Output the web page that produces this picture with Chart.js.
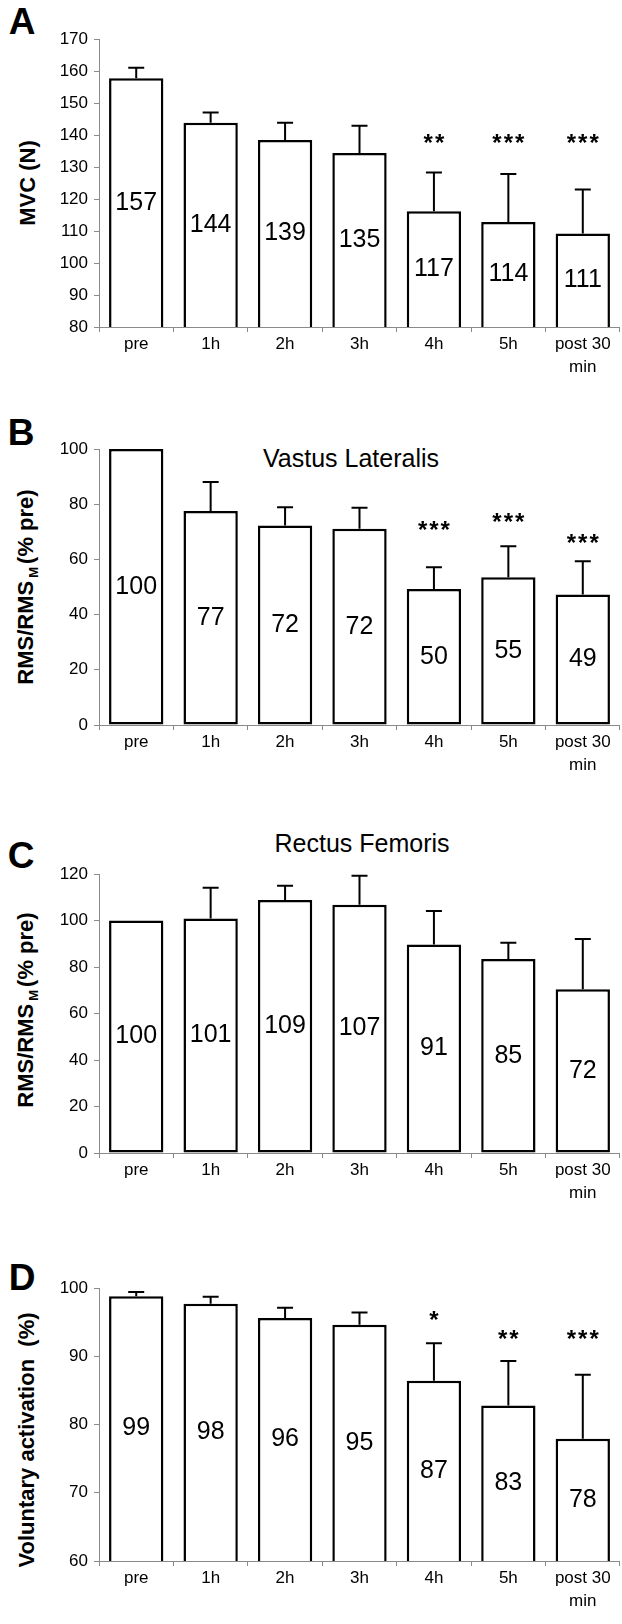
<!DOCTYPE html>
<html>
<head>
<meta charset="utf-8">
<script src="https://cdn.jsdelivr.net/npm/chart.js@4.4.0/dist/chart.umd.min.js"></script>
<style>
html, body { margin: 0; padding: 0; background: #fff; overflow: hidden; }
body { width: 622px; height: 1624px; position: relative; font-family: "Liberation Sans", Arial, sans-serif; color: #000; }
canvas { position: absolute; left: 0; }
.letter { position: absolute; font-weight: bold; font-size: 37px; line-height: 1; transform: translate(-50%, -50%); }
.title { position: absolute; font-size: 25px; line-height: 1; white-space: nowrap; transform: translate(-50%, -50%); }
.ytitle { position: absolute; font-weight: bold; font-size: 22px; line-height: 1; white-space: nowrap; transform: translate(-50%, -50%) rotate(-90deg); }
.ytitle sub { font-size: 13px; vertical-align: -5px; margin: 0 3px; }
</style>
</head>
<body>

<div class="letter" style="left:22px; top:21px">A</div>
<div class="ytitle" style="left:28px; top:183px">MVC (N)</div>

<div class="letter" style="left:21px; top:432px">B</div>
<div class="title" style="left:351px; top:458px">Vastus Lateralis</div>
<div class="ytitle" style="left:27px; top:587px">RMS/RMS<sub>M</sub>(% pre)</div>

<div class="letter" style="left:21px; top:855px">C</div>
<div class="title" style="left:362px; top:843px">Rectus Femoris</div>
<div class="ytitle" style="left:27px; top:1010px">RMS/RMS<sub>M</sub>(% pre)</div>

<div class="letter" style="left:22px; top:1277px">D</div>
<div class="ytitle" style="left:27px; top:1440px">Voluntary activation&nbsp;&nbsp;(%)</div>

<canvas id="chartA"></canvas>
<canvas id="chartB"></canvas>
<canvas id="chartC"></canvas>
<canvas id="chartD"></canvas>

<script>
const categories = ['pre', '1h', '2h', '3h', '4h', '5h', ['post 30', 'min']];

// A: MVC (N)
const mvcMean = [157.7, 143.8, 138.4, 134.4, 116.2, 112.8, 109.2];
const mvcSd = [3.3, 3.2, 5.4, 8.5, 12.1, 15.0, 13.8];
const mvcText = ['157', '144', '139', '135', '117', '114', '111'];
const mvcStars = ['', '', '', '', '**', '***', '***'];
const mvcStarAt = [null, null, null, null, 139, 139, 139];
const mvcTicks = [80, 170, 10];

// B: Vastus Lateralis
const vlMean = [100, 77.5, 72.3, 71.1, 49.3, 53.5, 47.3];
const vlSd = [0, 10.5, 6.6, 7.6, 7.9, 11.3, 12.0];
const vlText = ['100', '77', '72', '72', '50', '55', '49'];
const vlStars = ['', '', '', '', '***', '***', '***'];
const vlStarAt = [null, null, null, null, 72.3, 75.3, 67.7];
const vlTicks = [0, 100, 20];

// C: Rectus Femoris
const rfMean = [100, 100.9, 108.8, 106.8, 89.7, 83.4, 70.4];
const rfSd = [0, 13.2, 6.2, 12.5, 14.4, 7.0, 21.6];
const rfText = ['100', '101', '109', '107', '91', '85', '72'];
const rfStars = ['', '', '', '', '', '', ''];
const rfStarAt = [null, null, null, null, null, null, null];
const rfTicks = [0, 120, 20];

// D: Voluntary activation (%)
const vaMean = [98.8, 97.7, 95.6, 94.6, 86.4, 82.8, 77.9];
const vaSd = [0.6, 1.0, 1.5, 1.8, 5.5, 6.5, 9.4];
const vaText = ['99', '98', '96', '95', '87', '83', '78'];
const vaStars = ['', '', '', '', '*', '**', '***'];
const vaStarAt = [null, null, null, null, 96.1, 93.2, 93.2];
const vaTicks = [60, 100, 10];

const FONT = '"Liberation Sans", Arial, sans-serif';
const AXIS_GREY = '#8a8a8a';

// error bars, value labels and significance stars
const annotate = {
    id: 'annotate',
    afterDatasetsDraw(chart, args, opts) {
        const ctx = chart.ctx;
        const yScale = chart.scales.y;
        chart.getDatasetMeta(0).data.forEach((bar, i) => {
            ctx.save();
            const sd = opts.sd[i];
            if (sd > 0) {
                const top = yScale.getPixelForValue(opts.mean[i] + sd);
                ctx.strokeStyle = '#000';
                ctx.lineWidth = 2;
                ctx.beginPath();
                ctx.moveTo(bar.x, bar.y);
                ctx.lineTo(bar.x, top);
                ctx.moveTo(bar.x - 8, top);
                ctx.lineTo(bar.x + 8, top);
                ctx.stroke();
            }
            // label sits in the middle of the visible part of the bar
            const bottom = Math.min(bar.base, yScale.bottom);
            ctx.fillStyle = '#000';
            ctx.textAlign = 'center';
            ctx.textBaseline = 'middle';
            ctx.font = '25px ' + FONT;
            ctx.fillText(opts.text[i], bar.x, (bar.y + bottom) / 2);
            if (opts.stars[i]) {
                ctx.font = 'bold 24px ' + FONT;
                ctx.letterSpacing = '2px';
                ctx.textBaseline = 'alphabetic';
                ctx.fillText(opts.stars[i], bar.x + 1, yScale.getPixelForValue(opts.starAt[i]) + 13);
            }
            ctx.restore();
        });
    }
};

function makePanel(id, plotTop, plotBottom, mean, sd, text, stars, starAt, ticks) {
    const padTop = 20;
    const xAxisH = 60;
    const canvas = document.getElementById(id);
    canvas.width = 620;
    canvas.height = plotBottom - plotTop + padTop + xAxisH;
    canvas.style.top = (plotTop - padTop) + 'px';

    new Chart(canvas.getContext('2d'), {
        type: 'bar',
        data: {
            labels: categories,
            datasets: [{
                data: mean,
                backgroundColor: '#fff',
                borderColor: '#000',
                borderWidth: 2.5,
                borderSkipped: false,
                barPercentage: 0.73,
                categoryPercentage: 1
            }]
        },
        options: {
            responsive: false,
            animation: false,
            devicePixelRatio: 1,
            layout: { padding: { top: padTop, left: 0, right: 0, bottom: 0 } },
            plugins: {
                legend: { display: false },
                tooltip: { enabled: false },
                annotate: { mean: mean, sd: sd, text: text, stars: stars, starAt: starAt }
            },
            scales: {
                x: {
                    afterFit: (scale) => { scale.height = xAxisH; },
                    grid: { display: true, offset: true, drawOnChartArea: false, drawTicks: true, tickLength: 5, color: AXIS_GREY },
                    border: { display: true, color: AXIS_GREY, width: 1 },
                    ticks: { color: '#000', padding: 0, maxRotation: 0, autoSkip: false, font: { family: FONT, size: 17, lineHeight: 1.4 } }
                },
                y: {
                    min: ticks[0],
                    max: ticks[1],
                    afterFit: (scale) => { scale.width = 99; },
                    grid: { display: true, drawOnChartArea: false, drawTicks: true, tickLength: 5, color: AXIS_GREY },
                    border: { display: true, color: AXIS_GREY, width: 1 },
                    ticks: { stepSize: ticks[2], color: '#000', padding: 6, font: { family: FONT, size: 17 } }
                }
            }
        },
        plugins: [annotate]
    });
}

makePanel('chartA', 39, 327, mvcMean, mvcSd, mvcText, mvcStars, mvcStarAt, mvcTicks);
makePanel('chartB', 449, 725, vlMean, vlSd, vlText, vlStars, vlStarAt, vlTicks);
makePanel('chartC', 874, 1153, rfMean, rfSd, rfText, rfStars, rfStarAt, rfTicks);
makePanel('chartD', 1288, 1561, vaMean, vaSd, vaText, vaStars, vaStarAt, vaTicks);
</script>
</body>
</html>
